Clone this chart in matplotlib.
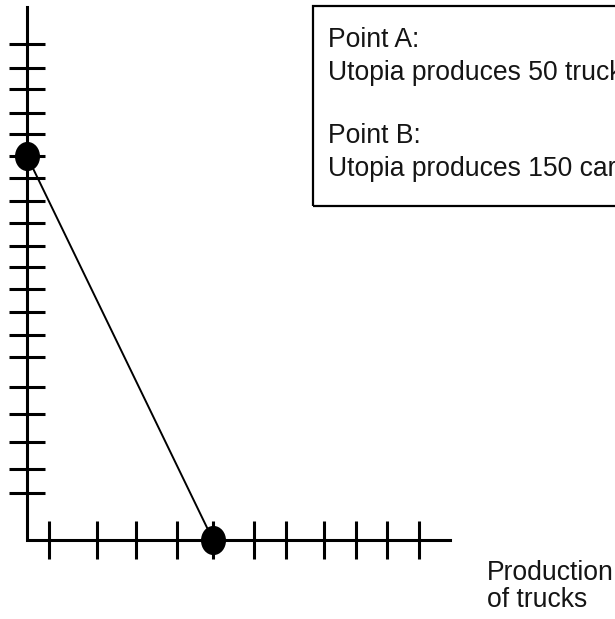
import matplotlib
matplotlib.use("Agg")
import matplotlib.pyplot as plt
from matplotlib.path import Path
from matplotlib.transforms import Affine2D
from matplotlib.patches import Rectangle

# production possibilities: point A (all cars) and point B (all trucks)
trucks = [0, 50]
cars = [150, 0]

# hand drawn tick marks on the two axes (in units of trucks / cars)
truck_ticks = [5.9, 18.8, 29.3, 40.3, 50, 61, 69.6, 79.8, 88.4, 96.8, 105.4]
car_ticks = [18.2, 27.7, 38.4, 49.1, 59.6, 71.6, 80.1, 88.9, 97.9, 106.5,
             114.8, 123.9, 132.4, 141.3, 150, 158.6, 166.9, 176.1, 184.3, 193.8]
truck_axis_end = 113.7
car_axis_end = 208.2

box_lines = ["Point A:", "Utopia produces 50 trucks",
             "Point B:", "Utopia produces 150 cars"]
box_baselines = [47, 80, 143, 176]   # pixels from the top
label_lines = ["Production", "of trucks"]
label_baselines = [580, 607]

plt.rcParams['font.family'] = ['Liberation Sans', 'DejaVu Sans']

W, H = 615, 619
fig = plt.figure(figsize=(W / 100, H / 100), dpi=100)
ax = fig.add_axes([0, 0, 1, 1])
# origin of the chart sits at pixel (27, 540)
ax.set_xlim(-27 / 3.72, (W - 27) / 3.72)
ax.set_ylim(-(H - 540) / 2.56, 540 / 2.56)
ax.axis("off")

# axes
ax.plot([0, 0, truck_axis_end], [car_axis_end, 0, 0], color="black",
        lw=2.2, solid_joinstyle="miter", zorder=2)
ax.plot([0] * len(car_ticks), car_ticks, ls="none", marker="_", ms=26,
        mew=2.2, color="black", zorder=2)
ax.plot(truck_ticks, [0] * len(truck_ticks), ls="none", marker="|", ms=27,
        mew=2.2, color="black", zorder=2)

# frontier line and the two points
ax.plot(trucks, cars, color="black", lw=1.4, zorder=3)
dot = Path.unit_circle().transformed(Affine2D().scale(0.85, 1.0))
ax.plot(trucks, cars, ls="none", marker=dot, ms=20, color="black", zorder=4)

# text box (runs off the right edge)
fig.patches.append(Rectangle((313 / W, 1 - 206 / H), 400 / W, 200 / H,
                             transform=fig.transFigure, fill=False,
                             ec="black", lw=1.6))
for txt, yb in zip(box_lines, box_baselines):
    fig.text(328 / W, 1 - yb / H, txt, fontsize=19.1, va="baseline",
             ha="left", color="#151515")

for txt, yb in zip(label_lines, label_baselines):
    fig.text(487 / W, 1 - yb / H, txt, fontsize=19.1, va="baseline",
             ha="left", color="#151515")

fig.savefig("out.png", dpi=100)
